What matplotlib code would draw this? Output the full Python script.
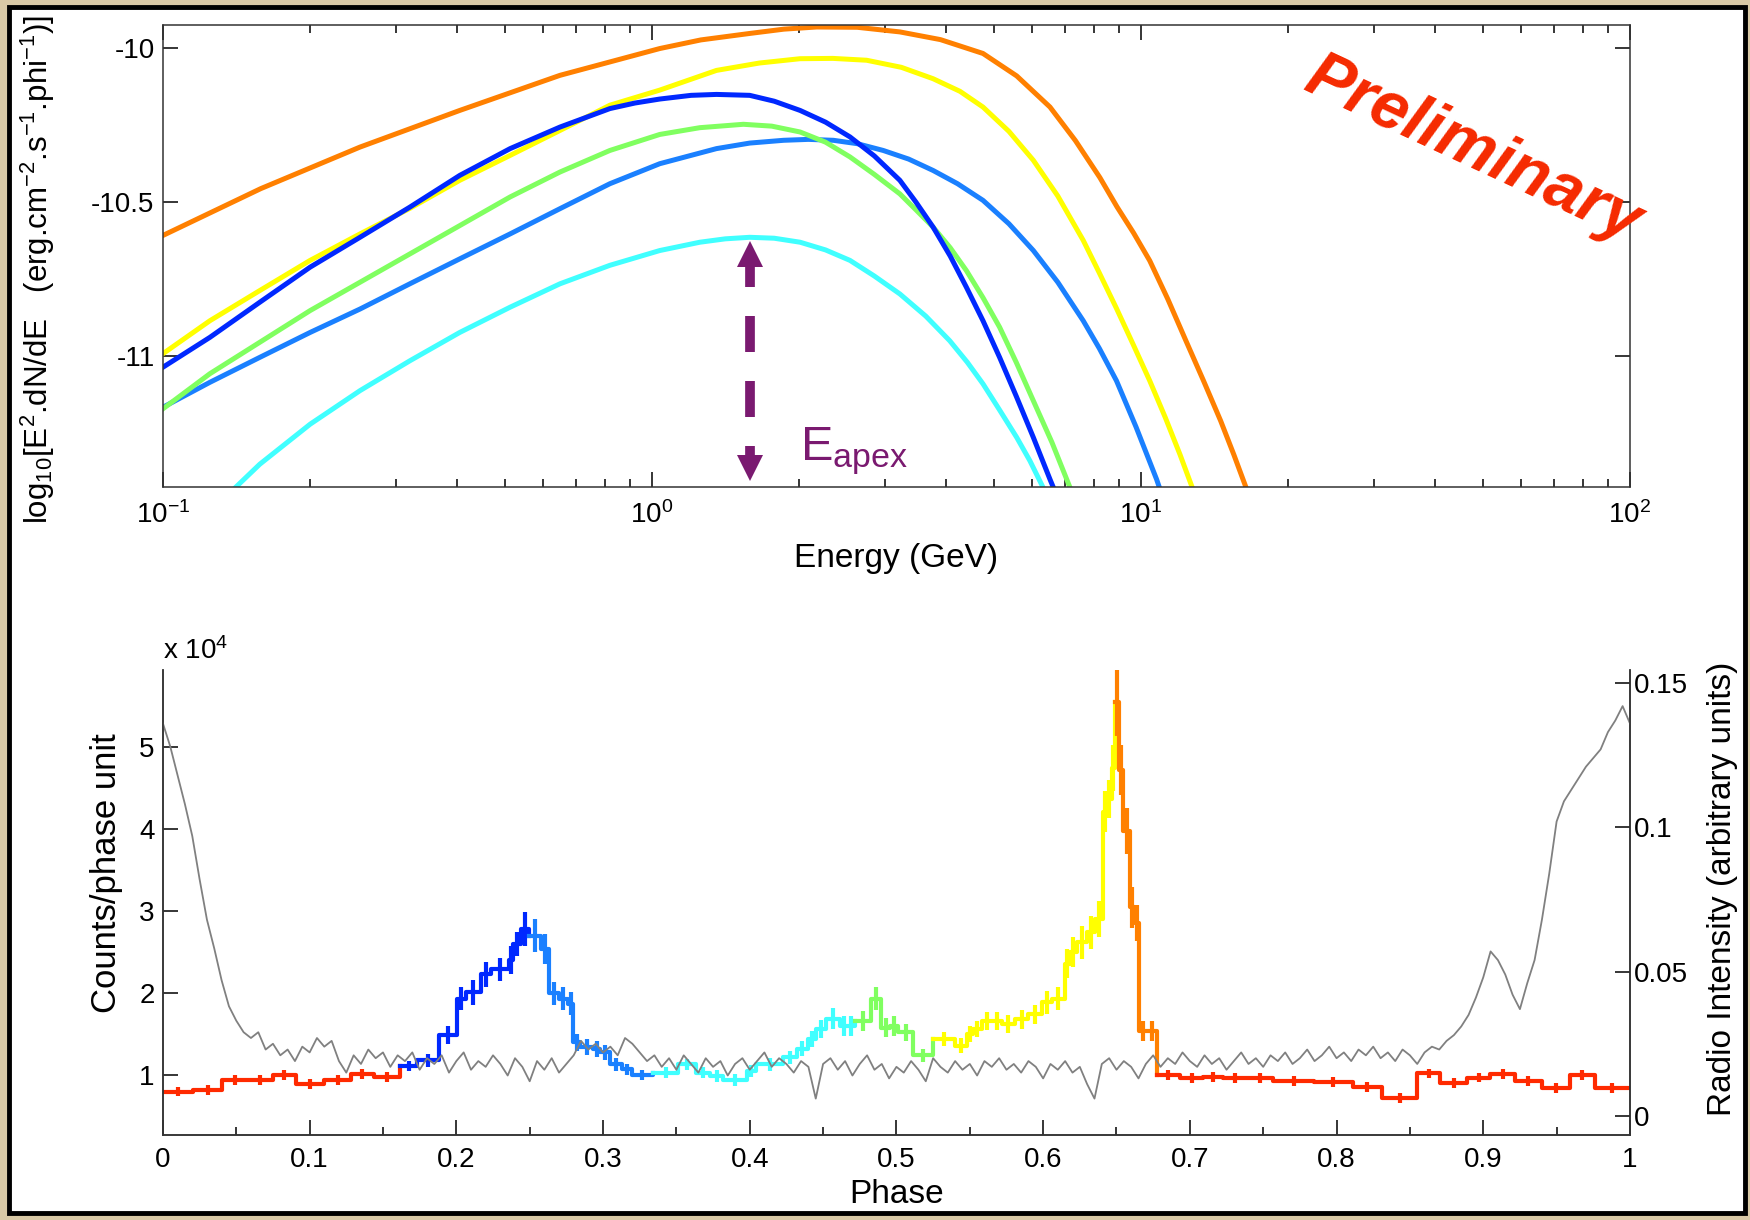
import numpy as np
import matplotlib.pyplot as plt
from matplotlib.patches import Rectangle
from matplotlib.ticker import FuncFormatter

plt.rcParams['font.family'] = ['Liberation Sans', 'DejaVu Sans']
plt.rcParams['mathtext.fontset'] = 'custom'
plt.rcParams['mathtext.rm'] = 'Liberation Sans'
plt.rcParams['mathtext.it'] = 'Liberation Sans:italic'
plt.rcParams['mathtext.bf'] = 'Liberation Sans:bold'
plt.rcParams['axes.unicode_minus'] = False

# ---- phase-resolved spectra: log10(E / GeV) and log10(E^2 dN/dE) ----
loge_orange = [-1.0, -0.80, -0.597, -0.393, -0.188, 0.016, 0.10, 0.200, 0.27, 0.337, 0.42, 0.507,
               0.59, 0.677, 0.746, 0.814, 0.866, 0.916, 0.951, 0.985, 1.018, 1.055, 1.092, 1.128,
               1.163, 1.19, 1.215, 1.24]
sed_orange = [-10.608, -10.456, -10.321, -10.202, -10.088, -10.001, -9.973, -9.952, -9.938, -9.931,
              -9.932, -9.947, -9.972, -10.017, -10.09, -10.191, -10.30, -10.42, -10.515, -10.60,
              -10.69, -10.815, -10.95, -11.08, -11.21, -11.32, -11.427, -11.53]

loge_yellow = [-1.0, -0.904, -0.802, -0.699, -0.597, -0.495, -0.393, -0.290, -0.188, -0.086,
               0.016, 0.132, 0.22, 0.303, 0.37, 0.439, 0.51, 0.575, 0.63, 0.677, 0.73, 0.780,
               0.83, 0.882, 0.915, 0.950, 0.985, 1.018, 1.05, 1.08, 1.105, 1.13]
sed_yellow = [-10.992, -10.885, -10.787, -10.689, -10.603, -10.520, -10.429, -10.348, -10.267, -10.185,
              -10.136, -10.072, -10.048, -10.034, -10.033, -10.039, -10.062, -10.099, -10.14, -10.191,
              -10.27, -10.364, -10.48, -10.624, -10.73, -10.845, -10.965, -11.08, -11.20, -11.32,
              -11.427, -11.53]

loge_dblue = [-1.0, -0.904, -0.802, -0.699, -0.597, -0.495, -0.393, -0.290, -0.188, -0.086, -0.035,
              0.016, 0.08, 0.132, 0.200, 0.25, 0.303, 0.355, 0.405, 0.455, 0.507, 0.54, 0.575, 0.61,
              0.643, 0.677, 0.711, 0.745, 0.780, 0.814, 0.84]
sed_dblue = [-11.036, -10.939, -10.825, -10.711, -10.614, -10.516, -10.413, -10.326, -10.256, -10.196,
             -10.178, -10.165, -10.153, -10.150, -10.153, -10.172, -10.202, -10.24, -10.288, -10.35,
             -10.429, -10.50, -10.581, -10.675, -10.776, -10.885, -11.004, -11.13, -11.264, -11.40,
             -11.50]

loge_green = [-1.0, -0.904, -0.802, -0.699, -0.597, -0.495, -0.393, -0.290, -0.188, -0.086,
              0.016, 0.098, 0.187, 0.245, 0.303, 0.355, 0.405, 0.455, 0.507, 0.54, 0.575, 0.61,
              0.643, 0.677, 0.711, 0.745, 0.780, 0.818, 0.855, 0.88]
sed_green = [-11.171, -11.057, -10.955, -10.852, -10.760, -10.668, -10.576, -10.483, -10.402, -10.332,
             -10.280, -10.258, -10.247, -10.253, -10.272, -10.305, -10.353, -10.41, -10.473, -10.525,
             -10.581, -10.648, -10.722, -10.81, -10.906, -11.02, -11.145, -11.28, -11.427, -11.53]

loge_mblue = [-1.0, -0.904, -0.802, -0.699, -0.597, -0.495, -0.393, -0.290, -0.188, -0.086,
              0.016, 0.132, 0.2, 0.269, 0.32, 0.371, 0.42, 0.473, 0.525, 0.575, 0.625, 0.677,
              0.73, 0.780, 0.83, 0.882, 0.915, 0.950, 0.99, 1.032, 1.06]
sed_mblue = [-11.166, -11.085, -11.004, -10.923, -10.847, -10.765, -10.684, -10.603, -10.521, -10.440,
             -10.375, -10.326, -10.308, -10.299, -10.296, -10.299, -10.31, -10.332, -10.36, -10.397,
             -10.44, -10.494, -10.57, -10.657, -10.76, -10.885, -10.975, -11.080, -11.23, -11.40,
             -11.53]

loge_cyan = [-0.90, -0.802, -0.699, -0.597, -0.495, -0.393, -0.290, -0.188, -0.086, 0.016,
             0.098, 0.15, 0.200, 0.25, 0.303, 0.355, 0.405, 0.455, 0.507, 0.56, 0.609, 0.645,
             0.677, 0.711, 0.746, 0.773, 0.800, 0.83]
sed_cyan = [-11.50, -11.351, -11.221, -11.112, -11.015, -10.923, -10.841, -10.765, -10.705, -10.657,
            -10.630, -10.619, -10.614, -10.617, -10.630, -10.655, -10.689, -10.74, -10.798, -10.87,
            -10.950, -11.02, -11.090, -11.175, -11.264, -11.34, -11.427, -11.53]

e_apex = 1.59  # GeV, peak of the cyan spectrum

# ---- gamma-ray light curve (x 1e4 counts / phase unit), variable bins ----
red1_edges = [0, 0.0204, 0.0404, 0.0578, 0.0748, 0.0907, 0.110, 0.128, 0.144, 0.1617]
red1_vals = [0.80, 0.82, 0.94, 0.94, 1.00, 0.89, 0.94, 1.01, 0.98]
red1_errs = [0.06, 0.06, 0.06, 0.06, 0.06, 0.06, 0.06, 0.06, 0.06]

dblue_edges = [0.1617, 0.1735, 0.1882, 0.2007, 0.2063, 0.2166, 0.2234, 0.2358, 0.2388, 0.2438, 0.2494]
dblue_vals = [1.11, 1.18, 1.49, 1.93, 2.01, 2.23, 2.29, 2.40, 2.60, 2.78]
dblue_errs = [0.06, 0.08, 0.11, 0.14, 0.15, 0.15, 0.14, 0.17, 0.15, 0.21]

mblue_edges = [0.2494, 0.2574, 0.2630, 0.2700, 0.2760, 0.2797, 0.2843, 0.2934, 0.2979, 0.3047,
               0.3127, 0.3195, 0.3342]
mblue_vals = [2.70, 2.54, 2.00, 1.93, 1.87, 1.40, 1.34, 1.32, 1.28, 1.13, 1.07, 1.00]
mblue_errs = [0.20, 0.18, 0.14, 0.14, 0.14, 0.10, 0.10, 0.10, 0.09, 0.08, 0.07, 0.06]

cyan_edges = [0.3342, 0.3512, 0.3637, 0.3728, 0.3819, 0.3978, 0.4046, 0.4228, 0.4319, 0.4398,
              0.4455, 0.4523, 0.4614, 0.4671, 0.4716]
cyan_vals = [1.03, 1.13, 1.03, 0.99, 0.94, 1.05, 1.13, 1.22, 1.32, 1.44, 1.56, 1.69, 1.60, 1.60]
cyan_errs = [0.07, 0.07, 0.07, 0.07, 0.07, 0.07, 0.08, 0.08, 0.09, 0.10, 0.11, 0.13, 0.12, 0.12]

green_edges = [0.4716, 0.4830, 0.4898, 0.4955, 0.5012, 0.5114, 0.5250]
green_vals = [1.66, 1.93, 1.58, 1.60, 1.52, 1.24]
green_errs = [0.12, 0.14, 0.12, 0.12, 0.10, 0.08]

yellow_edges = [0.5250, 0.5399, 0.5478, 0.5524, 0.5581, 0.5649, 0.5717, 0.5808, 0.5899, 0.5990,
                0.6058, 0.6149, 0.6183, 0.6228, 0.6296, 0.6353, 0.6410, 0.6433, 0.6467, 0.6489]
yellow_vals = [1.44, 1.36, 1.50, 1.56, 1.66, 1.66, 1.62, 1.68, 1.74, 1.89,
               1.93, 2.36, 2.50, 2.62, 2.74, 2.90, 4.21, 4.37, 4.74]
yellow_errs = [0.09, 0.09, 0.10, 0.10, 0.11, 0.11, 0.11, 0.12, 0.12, 0.14,
               0.14, 0.18, 0.18, 0.20, 0.20, 0.22, 0.25, 0.23, 0.28]

orange_edges = [0.6489, 0.6519, 0.6546, 0.6592, 0.6626, 0.6655, 0.6705, 0.6773]
orange_vals = [5.55, 4.72, 3.98, 3.05, 2.86, 1.54, 1.54]
orange_errs = [0.42, 0.30, 0.28, 0.25, 0.22, 0.12, 0.12]

red2_edges = [0.6773, 0.6932, 0.7091, 0.7227, 0.7386, 0.7568, 0.7848, 0.8109, 0.8312, 0.8550,
              0.8708, 0.8889, 0.9048, 0.9217, 0.9398, 0.9590, 0.9760, 1.0]
red2_vals = [1.00, 0.96, 0.98, 0.96, 0.96, 0.93, 0.92, 0.85, 0.72, 1.02,
             0.90, 0.97, 1.01, 0.93, 0.84, 1.00, 0.84]
red2_errs = [0.06] * 17

# ---- radio profile (arbitrary units), sampled every 0.005 in phase ----
radio_phase = np.linspace(0, 1, 201)
radio = [0.136, 0.128, 0.118, 0.108, 0.097, 0.082, 0.068, 0.058, 0.047, 0.038,
         0.033, 0.029, 0.027, 0.029, 0.023, 0.025, 0.021, 0.023, 0.019, 0.024,
         0.022, 0.027, 0.024, 0.026, 0.019, 0.015, 0.021, 0.018, 0.023, 0.020,
         0.022, 0.017, 0.021, 0.019, 0.022, 0.016, 0.020, 0.018, 0.021, 0.015,
         0.019, 0.022, 0.016, 0.019, 0.017, 0.021, 0.018, 0.014, 0.020, 0.017,
         0.012, 0.019, 0.016, 0.020, 0.015, 0.018, 0.021, 0.026, 0.023, 0.025,
         0.022, 0.024, 0.021, 0.027, 0.025, 0.022, 0.019, 0.021, 0.017, 0.020,
         0.016, 0.021, 0.018, 0.015, 0.020, 0.017, 0.019, 0.014, 0.018, 0.020,
         0.016, 0.019, 0.022, 0.017, 0.020, 0.018, 0.015, 0.019, 0.017, 0.006,
         0.018, 0.020, 0.016, 0.019, 0.014, 0.018, 0.021, 0.016, 0.018, 0.013,
         0.017, 0.015, 0.019, 0.016, 0.012, 0.020, 0.017, 0.015, 0.019, 0.016,
         0.018, 0.014, 0.019, 0.017, 0.020, 0.016, 0.018, 0.015, 0.019, 0.017,
         0.013, 0.018, 0.016, 0.019, 0.015, 0.017, 0.011, 0.006, 0.018, 0.020,
         0.016, 0.019, 0.017, 0.013, 0.018, 0.021, 0.017, 0.020, 0.018, 0.022,
         0.019, 0.017, 0.021, 0.018, 0.020, 0.016, 0.019, 0.022, 0.018, 0.020,
         0.017, 0.021, 0.019, 0.022, 0.018, 0.020, 0.023, 0.019, 0.021, 0.024,
         0.020, 0.022, 0.019, 0.023, 0.021, 0.024, 0.020, 0.022, 0.019, 0.023,
         0.021, 0.018, 0.022, 0.024, 0.023, 0.026, 0.028, 0.031, 0.035, 0.041,
         0.048, 0.057, 0.054, 0.049, 0.042, 0.037, 0.046, 0.054, 0.068, 0.084,
         0.102, 0.109, 0.113, 0.117, 0.121, 0.124, 0.127, 0.133, 0.137, 0.142,
         0.136]

c_orange = '#FF8000'
c_yellow = '#FFFF00'
c_dblue = '#0028FF'
c_green = '#80FF60'
c_mblue = '#1A80FF'
c_cyan = '#40FFFF'
c_red = '#FF2A00'
c_grey = '#808080'
c_purple = '#7A1A70'

fig = plt.figure(figsize=(17.5, 12.2), dpi=100)
fig.patch.set_facecolor('#D9C9A6')
fig.add_artist(Rectangle((9 / 1750, 1 - 1213 / 1220), 1736 / 1750, 1206 / 1220,
                         transform=fig.transFigure, facecolor='white',
                         edgecolor='black', lw=3.5, zorder=-10))

fmt = FuncFormatter(lambda v, p: '%g' % v)

# ---------------- top panel: spectra ----------------
ax1 = fig.add_axes([0.0931, 0.6008, 0.8383, 0.3791])
ax1.set_xscale('log')
for le, sed, col in [(loge_cyan, sed_cyan, c_cyan), (loge_mblue, sed_mblue, c_mblue),
                     (loge_green, sed_green, c_green), (loge_yellow, sed_yellow, c_yellow),
                     (loge_dblue, sed_dblue, c_dblue), (loge_orange, sed_orange, c_orange)]:
    ax1.plot(10 ** np.array(le), sed, color=col, lw=3.6, solid_joinstyle='round')

ax1.set_xlim(0.1, 100)
ax1.set_ylim(-11.425, -9.923)
ax1.set_yticks([-11, -10.5, -10])
ax1.yaxis.set_major_formatter(fmt)
ax1.tick_params(which='both', direction='in', top=True, right=True, width=1.1, labelsize=20)
ax1.tick_params(which='major', length=11)
ax1.tick_params(which='minor', length=6)
ax1.tick_params(axis='x', which='major', pad=10)
ax1.tick_params(axis='y', pad=6)
for s in ax1.spines.values():
    s.set_linewidth(1.1)
    s.set_color('#333333')
ax1.set_xlabel('Energy (GeV)', fontsize=24, labelpad=10)
ax1.set_ylabel(r'log$_{10}$[E$^2$.dN/dE   (erg.cm$^{-2}$.s$^{-1}$.phi$^{-1}$)]', fontsize=22.5)
ax1.yaxis.set_label_coords(-0.072, 0.47)

# E_apex double arrow (dashed)
for y0, y1 in [(-10.668, -10.776), (-10.868, -10.988), (-11.080, -11.199), (-11.291, -11.364)]:
    ax1.plot([e_apex, e_apex], [y0, y1], color=c_purple, lw=7, solid_capstyle='butt')
ax1.plot([e_apex], [-10.668], marker='^', ms=19, color=c_purple, mew=0)
ax1.plot([e_apex], [-11.364], marker='v', ms=19, color=c_purple, mew=0)
ax1.text(0.434, 0.058, r'E$_{\mathregular{apex}}$', transform=ax1.transAxes,
         fontsize=35, color=c_purple, ha='left', va='baseline')

fig.text(0.842, 0.877, 'Preliminary', rotation=-25, ha='center', va='center',
         fontsize=48, fontweight='bold', style='italic', color='#F52A00')

# ---------------- bottom panel: light curves ----------------
ax2 = fig.add_axes([0.0931, 0.0697, 0.8383, 0.3811])
segments = [
    (red1_edges, red1_vals, red1_errs, c_red),
    (dblue_edges, dblue_vals, dblue_errs, c_dblue),
    (mblue_edges, mblue_vals, mblue_errs, c_mblue),
    (cyan_edges, cyan_vals, cyan_errs, c_cyan),
    (green_edges, green_vals, green_errs, c_green),
    (yellow_edges, yellow_vals, yellow_errs, c_yellow),
    (orange_edges, orange_vals, orange_errs, c_orange),
    (red2_edges, red2_vals, red2_errs, c_red),
]
for i, (edges, vals, errs, col) in enumerate(segments):
    edges = np.array(edges)
    nxt = segments[i + 1][1][0] if i + 1 < len(segments) else vals[-1]
    xs = np.r_[edges, edges[-1]]
    ys = np.r_[vals, vals[-1], nxt]
    ax2.plot(xs, ys, drawstyle='steps-post', color=col, lw=3)
    centers = 0.5 * (edges[:-1] + edges[1:])
    ax2.errorbar(centers, vals, yerr=errs, fmt='none', ecolor=col, elinewidth=3, capsize=0)

ax2.set_xlim(0, 1)
ax2.set_ylim(0.27, 5.94)
ax2.set_xticks(np.arange(0, 1.01, 0.1))
ax2.set_xticks(np.arange(0.05, 1.0, 0.1), minor=True)
ax2.set_yticks([1, 2, 3, 4, 5])
ax2.xaxis.set_major_formatter(fmt)
ax2.spines['top'].set_visible(False)
ax2.tick_params(which='both', direction='in', width=1.1, labelsize=20)
ax2.tick_params(which='major', length=11)
ax2.tick_params(which='minor', length=6)
ax2.tick_params(axis='x', pad=9)
ax2.tick_params(axis='y', pad=6)
for s in ax2.spines.values():
    s.set_linewidth(1.1)
    s.set_color('#333333')
ax2.set_xlabel('Phase', fontsize=24, labelpad=4)
ax2.set_ylabel('Counts/phase unit', fontsize=25)
ax2.yaxis.set_label_coords(-0.027, 0.563)
ax2.text(0.0, 1.024, r'x 10$^4$', transform=ax2.transAxes, fontsize=20,
         ha='left', va='baseline')

ax3 = ax2.twinx()
ax3.plot(radio_phase, radio, color=c_grey, lw=1.3)
ax3.set_ylim(-0.0066, 0.1545)
ax3.set_yticks([0, 0.05, 0.1, 0.15])
ax3.yaxis.set_major_formatter(fmt)
ax3.spines['top'].set_visible(False)
for s in ax3.spines.values():
    s.set_linewidth(1.1)
    s.set_color('#333333')
ax3.tick_params(direction='in', length=11, width=1.1, labelsize=20, pad=3)
ax3.set_ylabel('Radio Intensity (arbitrary units)', fontsize=24)
ax3.yaxis.set_label_coords(1.0525, 0.53)

fig.savefig('out.png', dpi=100, facecolor=fig.get_facecolor())
